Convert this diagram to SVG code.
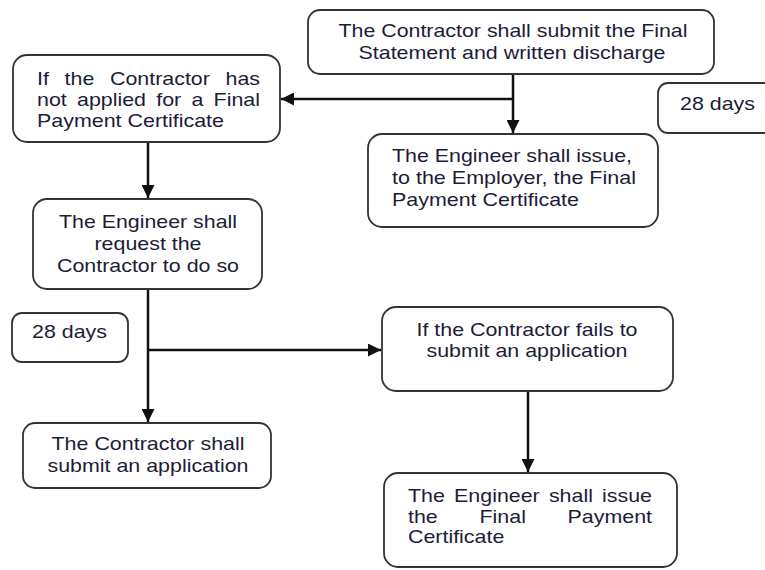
<svg xmlns="http://www.w3.org/2000/svg" width="765" height="570" viewBox="0 0 765 570">
<defs>
<style>
.box{fill:#ffffff;stroke:#333333;stroke-width:1.8}
.t{font-family:"Liberation Sans",Arial,sans-serif;font-size:19px;fill:#1c1c38}
.c{text-anchor:middle}
.con{fill:none;stroke:#111111;stroke-width:2.5}
</style>
<marker id="arr" markerUnits="userSpaceOnUse" markerWidth="13" markerHeight="13" refX="13" refY="6.5" orient="auto">
<path d="M0,0 L13,6.5 L0,13 z" fill="#111111"/>
</marker>
</defs>
<rect width="765" height="570" fill="#ffffff"/>
<g id="connectors">
<path class="con" d="M513,74 V133" marker-end="url(#arr)"/>
<path class="con" d="M513,99 H281" marker-end="url(#arr)"/>
<path class="con" d="M148,142 V198" marker-end="url(#arr)"/>
<path class="con" d="M148,289 V422" marker-end="url(#arr)"/>
<path class="con" d="M148,350 H381" marker-end="url(#arr)"/>
<path class="con" d="M528,391 V472" marker-end="url(#arr)"/>
</g>
<g id="n-submit-final">
<rect class="box" x="308" y="10" width="406" height="64" rx="12"/>
<text class="t c" x="513" y="37" textLength="349" lengthAdjust="spacingAndGlyphs">The Contractor shall submit the Final</text>
<text class="t c" x="512" y="59" textLength="307" lengthAdjust="spacingAndGlyphs">Statement and written discharge</text>
</g>
<g id="n-28days-top">
<rect class="box" x="658" y="83" width="125" height="50" rx="10"/>
<text class="t" x="680" y="110" textLength="75" lengthAdjust="spacingAndGlyphs">28 days</text>
</g>
<g id="n-engineer-issue-employer">
<rect class="box" x="368" y="134" width="290" height="93" rx="14"/>
<text class="t" x="392" y="162" textLength="240" lengthAdjust="spacingAndGlyphs">The Engineer shall issue,</text>
<text class="t" x="392" y="184" textLength="244" lengthAdjust="spacingAndGlyphs">to the Employer, the Final</text>
<text class="t" x="392" y="206" textLength="187" lengthAdjust="spacingAndGlyphs">Payment Certificate</text>
</g>
<g id="n-not-applied">
<rect class="box" x="13" y="55" width="267" height="87" rx="14"/>
<text class="t" x="37" y="85" textLength="12" lengthAdjust="spacingAndGlyphs">If</text>
<text class="t" x="64.6" y="85" textLength="29.7" lengthAdjust="spacingAndGlyphs">the</text>
<text class="t" x="110" y="85" textLength="99.9" lengthAdjust="spacingAndGlyphs">Contractor</text>
<text class="t" x="225.5" y="85" textLength="34.5" lengthAdjust="spacingAndGlyphs">has</text>
<text class="t" x="37" y="106" textLength="29.7" lengthAdjust="spacingAndGlyphs">not</text>
<text class="t" x="77" y="106" textLength="69" lengthAdjust="spacingAndGlyphs">applied</text>
<text class="t" x="156.2" y="106" textLength="25" lengthAdjust="spacingAndGlyphs">for</text>
<text class="t" x="191.5" y="106" textLength="11.9" lengthAdjust="spacingAndGlyphs">a</text>
<text class="t" x="213.6" y="106" textLength="46.4" lengthAdjust="spacingAndGlyphs">Final</text>
<text class="t" x="37" y="127" textLength="187" lengthAdjust="spacingAndGlyphs">Payment Certificate</text>
</g>
<g id="n-engineer-request">
<rect class="box" x="33" y="199" width="229" height="90" rx="14"/>
<text class="t c" x="148" y="228" textLength="178" lengthAdjust="spacingAndGlyphs">The Engineer shall</text>
<text class="t c" x="148" y="250" textLength="107" lengthAdjust="spacingAndGlyphs">request the</text>
<text class="t c" x="148" y="272" textLength="182" lengthAdjust="spacingAndGlyphs">Contractor to do so</text>
</g>
<g id="n-28days-left">
<rect class="box" x="12" y="313" width="116" height="49" rx="10"/>
<text class="t" x="32" y="338" textLength="75" lengthAdjust="spacingAndGlyphs">28 days</text>
</g>
<g id="n-contractor-submit">
<rect class="box" x="23" y="423" width="248" height="65" rx="12"/>
<text class="t c" x="148" y="450" textLength="193" lengthAdjust="spacingAndGlyphs">The Contractor shall</text>
<text class="t c" x="148" y="472" textLength="201" lengthAdjust="spacingAndGlyphs">submit an application</text>
</g>
<g id="n-fails">
<rect class="box" x="382" y="307" width="291" height="84" rx="14"/>
<text class="t c" x="527" y="336" textLength="221" lengthAdjust="spacingAndGlyphs">If the Contractor fails to</text>
<text class="t c" x="527" y="357" textLength="201" lengthAdjust="spacingAndGlyphs">submit an application</text>
</g>
<g id="n-engineer-issue-final">
<rect class="box" x="384" y="473" width="293" height="94" rx="14"/>
<text class="t" x="408" y="502" textLength="36.9" lengthAdjust="spacingAndGlyphs">The</text>
<text class="t" x="454.1" y="502" textLength="85.6" lengthAdjust="spacingAndGlyphs">Engineer</text>
<text class="t" x="548.9" y="502" textLength="44" lengthAdjust="spacingAndGlyphs">shall</text>
<text class="t" x="602.1" y="502" textLength="49.9" lengthAdjust="spacingAndGlyphs">issue</text>
<text class="t" x="408" y="522.5" textLength="29.7" lengthAdjust="spacingAndGlyphs">the</text>
<text class="t" x="479.5" y="522.5" textLength="46.4" lengthAdjust="spacingAndGlyphs">Final</text>
<text class="t" x="567.6" y="522.5" textLength="84.4" lengthAdjust="spacingAndGlyphs">Payment</text>
<text class="t" x="408" y="543" textLength="96.3" lengthAdjust="spacingAndGlyphs">Certificate</text>
</g>
</svg>
